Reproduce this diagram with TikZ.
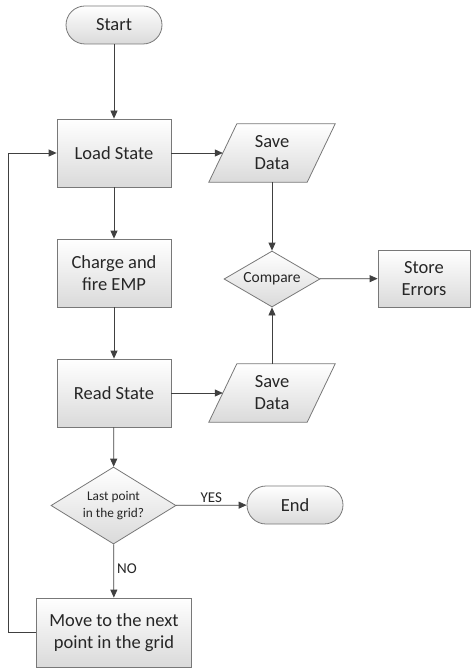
\documentclass[tikz,border=0pt]{standalone}
\usepackage{fontspec}
\setmainfont{Carlito}
\usetikzlibrary{arrows.meta,shapes.geometric,backgrounds}
\definecolor{linecol}{RGB}{64,64,64}
\definecolor{bordercol}{RGB}{120,120,120}
\definecolor{textcol}{RGB}{38,38,38}
\definecolor{fillbot}{RGB}{218,218,218}
\tikzset{
  shade box/.style={top color=white, bottom color=fillbot, draw=bordercol, line width=0.8pt},
  procbox/.style={shade box, rectangle, minimum width=114pt, minimum height=68pt, align=center, inner sep=2pt,
    text=textcol, font=\fontsize{18.5}{22}\selectfont},
  termbox/.style={shade box, rectangle, rounded corners=19pt, minimum width=96pt, minimum height=38pt,
    text=textcol, font=\fontsize{18.5}{22}\selectfont},
  decbox/.style={shade box, diamond, inner sep=0pt, align=center, text=textcol},
  iobox/.style={rectangle, minimum width=98pt, minimum height=58pt, align=center, inner sep=0pt,
    text=textcol, font=\fontsize{18.5}{22}\selectfont},
  iofill/.style={shade box},
  conn/.style={draw=linecol, line width=0.8pt, -{Triangle[length=8pt,width=7pt]}},
  lbl/.style={text=textcol, font=\fontsize{15}{18}\selectfont, inner sep=1pt}
}
\begin{document}
\begin{tikzpicture}[x=1pt,y=-1pt]
\useasboundingbox (0,0) rectangle (471,668);
% main column
\node[termbox] (start) at (114,25) {Start};
\node[procbox] (load) at (114,153) {Load State};
\node[procbox] (charge) at (114,273) {Charge and\\fire EMP};
\node[procbox] (read) at (114,393) {Read State};
\node[decbox, minimum width=125pt, minimum height=77pt, aspect=1.62,
      font=\fontsize{13.3}{17}\selectfont] (dec) at (113.5,505.5) {Last point\\in the grid?};
\node[procbox, minimum width=155pt, minimum height=69pt] (move) at (114,632.5) {Move to the next\\point in the grid};
\node[termbox] (end) at (295,505) {End};
% right column
\node[iobox] (sd1) at (272,153) {Save\\Data};
\node[iobox] (sd2) at (272,393) {Save\\Data};
\node[decbox, minimum width=96pt, minimum height=56pt, aspect=1.71,
      font=\fontsize{15.5}{18}\selectfont] (cmp) at (272,279) {Compare};
\node[procbox, minimum width=92pt, minimum height=57pt] (store) at (424,278.5) {Store\\Errors};
% parallelograms behind their text
\begin{pgfonlayer}{background}
\foreach \n in {sd1,sd2}{
  \path[iofill] ([xshift=-14pt]\n.south west) -- ([xshift=14pt]\n.north west)
     -- ([xshift=14pt]\n.north east) -- ([xshift=-14pt]\n.south east) -- cycle;
}
\end{pgfonlayer}
% connectors
\draw[conn] (start) -- (load);
\draw[conn] (load) -- (charge);
\draw[conn] (charge) -- (read);
\draw[conn] (read) -- (dec);
\draw[conn] (dec) -- node[lbl, above=1pt] {YES} (end);
\draw[conn] (dec) -- node[lbl, right=2pt, pos=0.45] {NO} (move);
\coordinate (loopcorner) at (8,632.5);
\draw[conn] (move.west) -- (loopcorner) |- (load.west);
\draw[conn] (load) -- (sd1);
\draw[conn] (read) -- (sd2);
\draw[conn] (sd1) -- (cmp);
\draw[conn] (sd2) -- (cmp);
\draw[conn] (cmp) -- (store);
\end{tikzpicture}
\end{document}
